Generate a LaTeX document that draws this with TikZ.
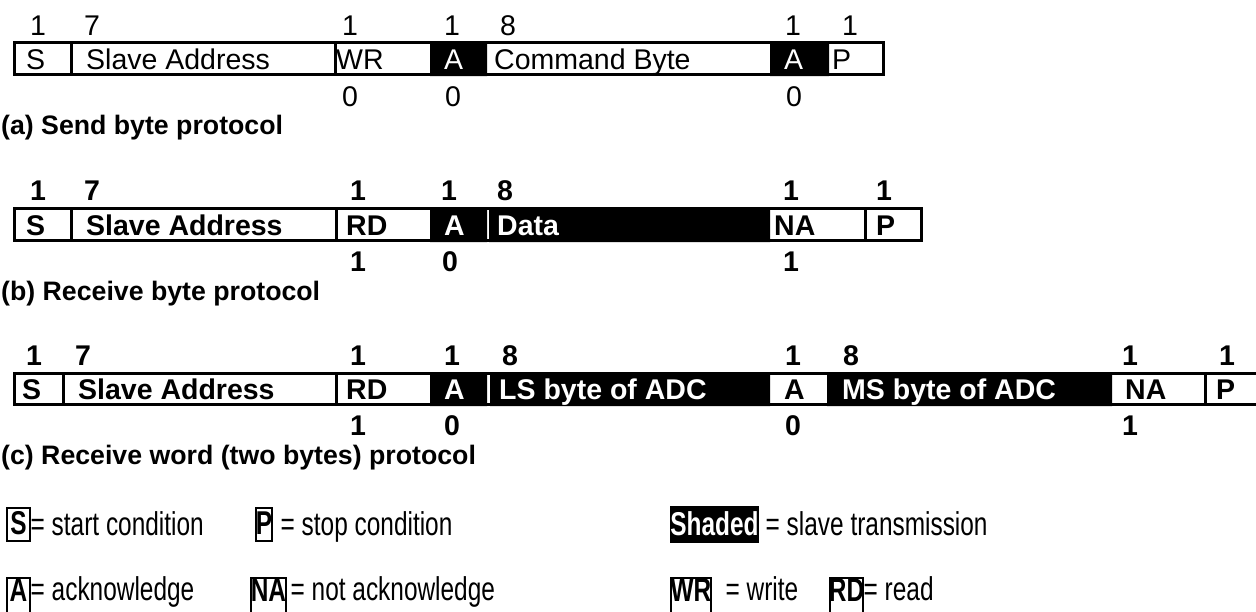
\documentclass[tikz,border=0pt]{standalone}
\usepackage{fontspec}
\setmainfont{Liberation Sans}
\usepackage{graphicx}
\newcommand{\lgtxt}[1]{\scalebox{0.74}[1]{#1}}
\tikzset{
  rowframe/.style={draw=black, line width=3pt},
  keybox/.style={draw=black, line width=2pt},
  slavefill/.style={fill=black},
  whitegap/.style={draw=white, line width=2pt},
  field/.style={anchor=base west, inner sep=0pt, font=\fontsize{28.5}{30}\selectfont},
  fieldb/.style={field, font=\fontsize{28.5}{30}\selectfont\bfseries},
  bits/.style={anchor=base, inner sep=0pt, font=\fontsize{28.5}{30}\selectfont},
  bitsb/.style={bits, font=\fontsize{28.5}{30}\selectfont\bfseries},
  protocap/.style={anchor=base west, inner sep=0pt, font=\fontsize{26.7}{30}\selectfont\bfseries},
  keytext/.style={anchor=base west, inner sep=0pt, font=\fontsize{33}{36}\selectfont},
  keyletter/.style={anchor=base, inner sep=0pt, font=\fontsize{33}{36}\selectfont\bfseries}
}

\begin{document}
\begin{tikzpicture}[x=1pt, y=-1pt]
\useasboundingbox (0,0) rectangle (1256,611);

% (a) send byte
\draw[rowframe] (14.5,42.5) rectangle (883.5,74.5);
\draw[rowframe] (71,41) -- (71,76) (335,41) -- (335,76);
\fill[slavefill] (430,41) rectangle (487,76) (770,41) rectangle (829,76);
\node[field] (aS) at (26,69) {S};
\node[field] (aAddr) at (86,69) {Slave Address};
\node[field] (aWR) at (336,69) {WR};
\node[field, text=white] (aA1) at (444,69) {A};
\node[field] (aCmd) at (494,69) {Command Byte};
\node[field, text=white] (aA2) at (784,69) {A};
\node[field] (aP) at (832,69) {P};
\foreach \x/\n [count=\i] in {38/1,92/7,350/1,452/1,508/8,793/1,850/1}
  \node[bits] (atop\i) at (\x,35) {\n};
\foreach \x/\n [count=\i] in {350/0,453/0,794/0}
  \node[bits] (abot\i) at (\x,106) {\n};
\node[protocap] (capa) at (1,134) {(a) Send byte protocol};

% (b) receive byte
\draw[rowframe] (14.5,208.5) rectangle (921.5,240.5);
\draw[rowframe] (71,207) -- (71,242) (336,207) -- (336,242) (865,207) -- (865,242);
\fill[slavefill] (430,207) rectangle (487,242) (489,207) rectangle (770,242);
\node[fieldb] (bS) at (26,235) {S};
\node[fieldb] (bAddr) at (86,235) {Slave Address};
\node[fieldb] (bRD) at (346,235) {RD};
\node[fieldb, text=white] (bA) at (444,235) {A};
\node[fieldb, text=white] (bData) at (497,235) {Data};
\node[fieldb] (bNA) at (774,235) {NA};
\node[fieldb] (bP) at (876,235) {P};
\foreach \x/\n [count=\i] in {38/1,92/7,358/1,449/1,505/8,791/1,884/1}
  \node[bitsb] (btop\i) at (\x,200) {\n};
\foreach \x/\n [count=\i] in {358/1,450/0,791/1}
  \node[bitsb] (bbot\i) at (\x,271) {\n};
\node[protocap] (capb) at (1,300) {(b) Receive byte protocol};

% (c) receive word
\draw[rowframe] (14.5,373.5) rectangle (1260,404.5);
\draw[rowframe] (63,372) -- (63,406) (336,372) -- (336,406) (1205,372) -- (1205,406);
\fill[slavefill] (430,372) rectangle (487,406) (490,372) rectangle (770,406)
  (827,372) rectangle (1112,406);
\node[fieldb] (cS) at (22,399.5) {S};
\node[fieldb] (cAddr) at (78,399.5) {Slave Address};
\node[fieldb] (cRD) at (346,399.5) {RD};
\node[fieldb, text=white] (cA1) at (444,399.5) {A};
\node[fieldb, text=white] (cLS) at (499,399.5) {LS byte of ADC};
\node[fieldb] (cA2) at (784,399.5) {A};
\node[fieldb, text=white] (cMS) at (842,399.5) {MS byte of ADC};
\node[fieldb] (cNA) at (1125,399.5) {NA};
\node[fieldb] (cP) at (1216,399.5) {P};
\foreach \x/\n [count=\i] in {34/1,83/7,358/1,452/1,510/8,793/1,851/8,1130/1,1227/1}
  \node[bitsb] (ctop\i) at (\x,365) {\n};
\foreach \x/\n [count=\i] in {358/1,452/0,793/0,1130/1}
  \node[bitsb] (cbot\i) at (\x,435) {\n};
\node[protocap] (capc) at (1,464) {(c) Receive word (two bytes) protocol};

% key
\draw[keybox] (7,508) rectangle (30,541);
\node[keyletter] (kS) at (18.5,534) {\lgtxt{S}};
\node[keytext] (tS) at (30.5,535) {\lgtxt{= start condition}};
\draw[keybox] (256,508) rectangle (272,541);
\node[keyletter] (kP) at (264,534) {\lgtxt{P}};
\node[keytext] (tP) at (280.5,535) {\lgtxt{= stop condition}};
\fill[slavefill] (670,506) rectangle (759,543);
\node[keyletter, text=white] (kSh) at (714.5,535) {\lgtxt{Shaded}};
\node[keytext] (tSh) at (765.5,535) {\lgtxt{= slave transmission}};

\draw[keybox] (7,578) rectangle (30,614);
\node[keyletter] (kA) at (18.5,601) {\lgtxt{A}};
\node[keytext] (tA) at (30.5,600) {\lgtxt{= acknowledge}};
\draw[keybox] (251,578) rectangle (286,614);
\node[keyletter] (kNA) at (268.5,601) {\lgtxt{NA}};
\node[keytext] (tNA) at (290.5,600) {\lgtxt{= not acknowledge}};
\draw[keybox] (671,578) rectangle (711,614);
\node[keyletter] (kWR) at (691,601) {\lgtxt{WR}};
\node[keytext] (tWR) at (725.5,600) {\lgtxt{= write}};
\draw[keybox] (830,578) rectangle (863,614);
\node[keyletter] (kRD) at (846.5,601) {\lgtxt{RD}};
\node[keytext] (tRD) at (863.5,600) {\lgtxt{= read}};
\end{tikzpicture}
\end{document}
